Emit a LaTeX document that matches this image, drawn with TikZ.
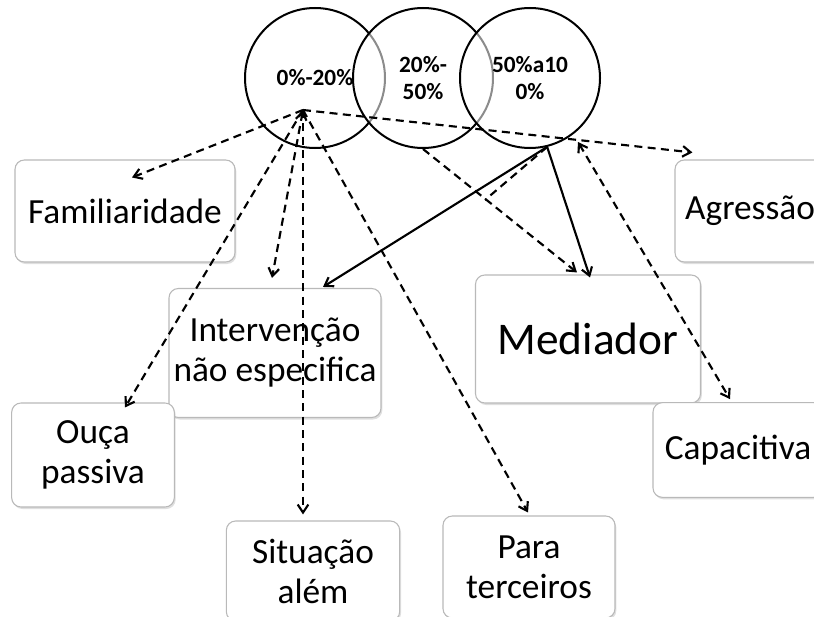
\documentclass[tikz,border=0pt]{standalone}
\usepackage{fontspec}
\setmainfont{Carlito}
\usetikzlibrary{arrows.meta,shadows}

\begin{document}
\begin{tikzpicture}[x=0.75pt, y=-0.75pt, >={Straight Barb[length=6pt,width=8pt]}, line width=1.6pt,
  pct/.style = {draw, circle, minimum size=105pt, line width=1.5pt, fill=white, fill opacity=0.55, text opacity=1, align=center, font=\fontsize{17.5}{20}\selectfont\bfseries},
  box/.style = {draw=gray!55, line width=0.8pt, rounded corners=7pt, fill=white, align=center, drop shadow={shadow xshift=1pt, shadow yshift=-1.5pt, opacity=0.25}, font=\fontsize{26.5}{30}\selectfont},
  dashline/.style = {->, dashed, dash pattern=on 6pt off 4pt}]
  \useasboundingbox (0,0) rectangle (814,617);
  \clip (0,0) rectangle (814,617);

  % Percentage ranges
  \node[pct] (r1) at (315,78) {0\%-20\%};
  \node[pct] (r2) at (423,78) {20\%-\\50\%};
  \node[pct] (r3) at (530,78) {50\%a10\\0\%};

  % Boxes
  \node[box, minimum width=165pt, minimum height=76.5pt] (fam) at (125,211) {Familiaridade};
  \node[box, minimum width=112.5pt, minimum height=76.5pt] (agr) at (750,211) {Agressão};
  \node[box, minimum width=159pt, minimum height=96.75pt] (int) at (275,353) {Intervenção\\não especifica};
  \node[box, minimum width=168.75pt, minimum height=96pt, font=\fontsize{34}{40}\selectfont] (med) at (588,339) {Mediador};
  \node[box, minimum width=122pt, minimum height=78pt] (ouc) at (93,455) {Ouça\\passiva};
  \node[box, minimum width=127.5pt, minimum height=71pt] (cap) at (738,450) {Capacitiva};
  \node[box, minimum width=130pt, minimum height=75pt] (sit) at (313,571) {Situação\\além};
  \node[box, minimum width=129pt, minimum height=76.5pt] (par) at (529,567) {Para\\terceiros};

  % Points where the arrows meet
  \coordinate (apex) at (303,110);
  \coordinate (split) at (578,142);
  \coordinate (cross) at (485,200);

  % Dashed arrows
  \path
        (apex) edge[dashline] ([shift={(7,18)}]fam.north)
        (apex) edge[dashline, <->] ([shift={(-3,-10)}]int.north)
        (apex) edge[dashline] ([shift={(32,5)}]ouc.north)
        (apex) edge[dashline] ([shift={(-10,-6)}]sit.north)
        (apex) edge[dashline] ([shift={(-1,-3)}]par.north)
        (apex) edge[dashline] ([shift={(18,-7)}]agr.north west)
        (split) edge[dashline, <->] ([shift={(-8,-3)}]cap.north)
        (r2.south) edge[dashline] ([shift={(-11,-2)}]med.north)
        (r3.-76) edge[dashed, dash pattern=on 6pt off 4pt] (cross);

  % Solid arrows
  \path
        (r3.-76) edge[->] ([shift={(48,-1)}]int.north)
        (r3.-76) edge[->] ([shift={(2,3)}]med.north);

\end{tikzpicture}
\end{document}
